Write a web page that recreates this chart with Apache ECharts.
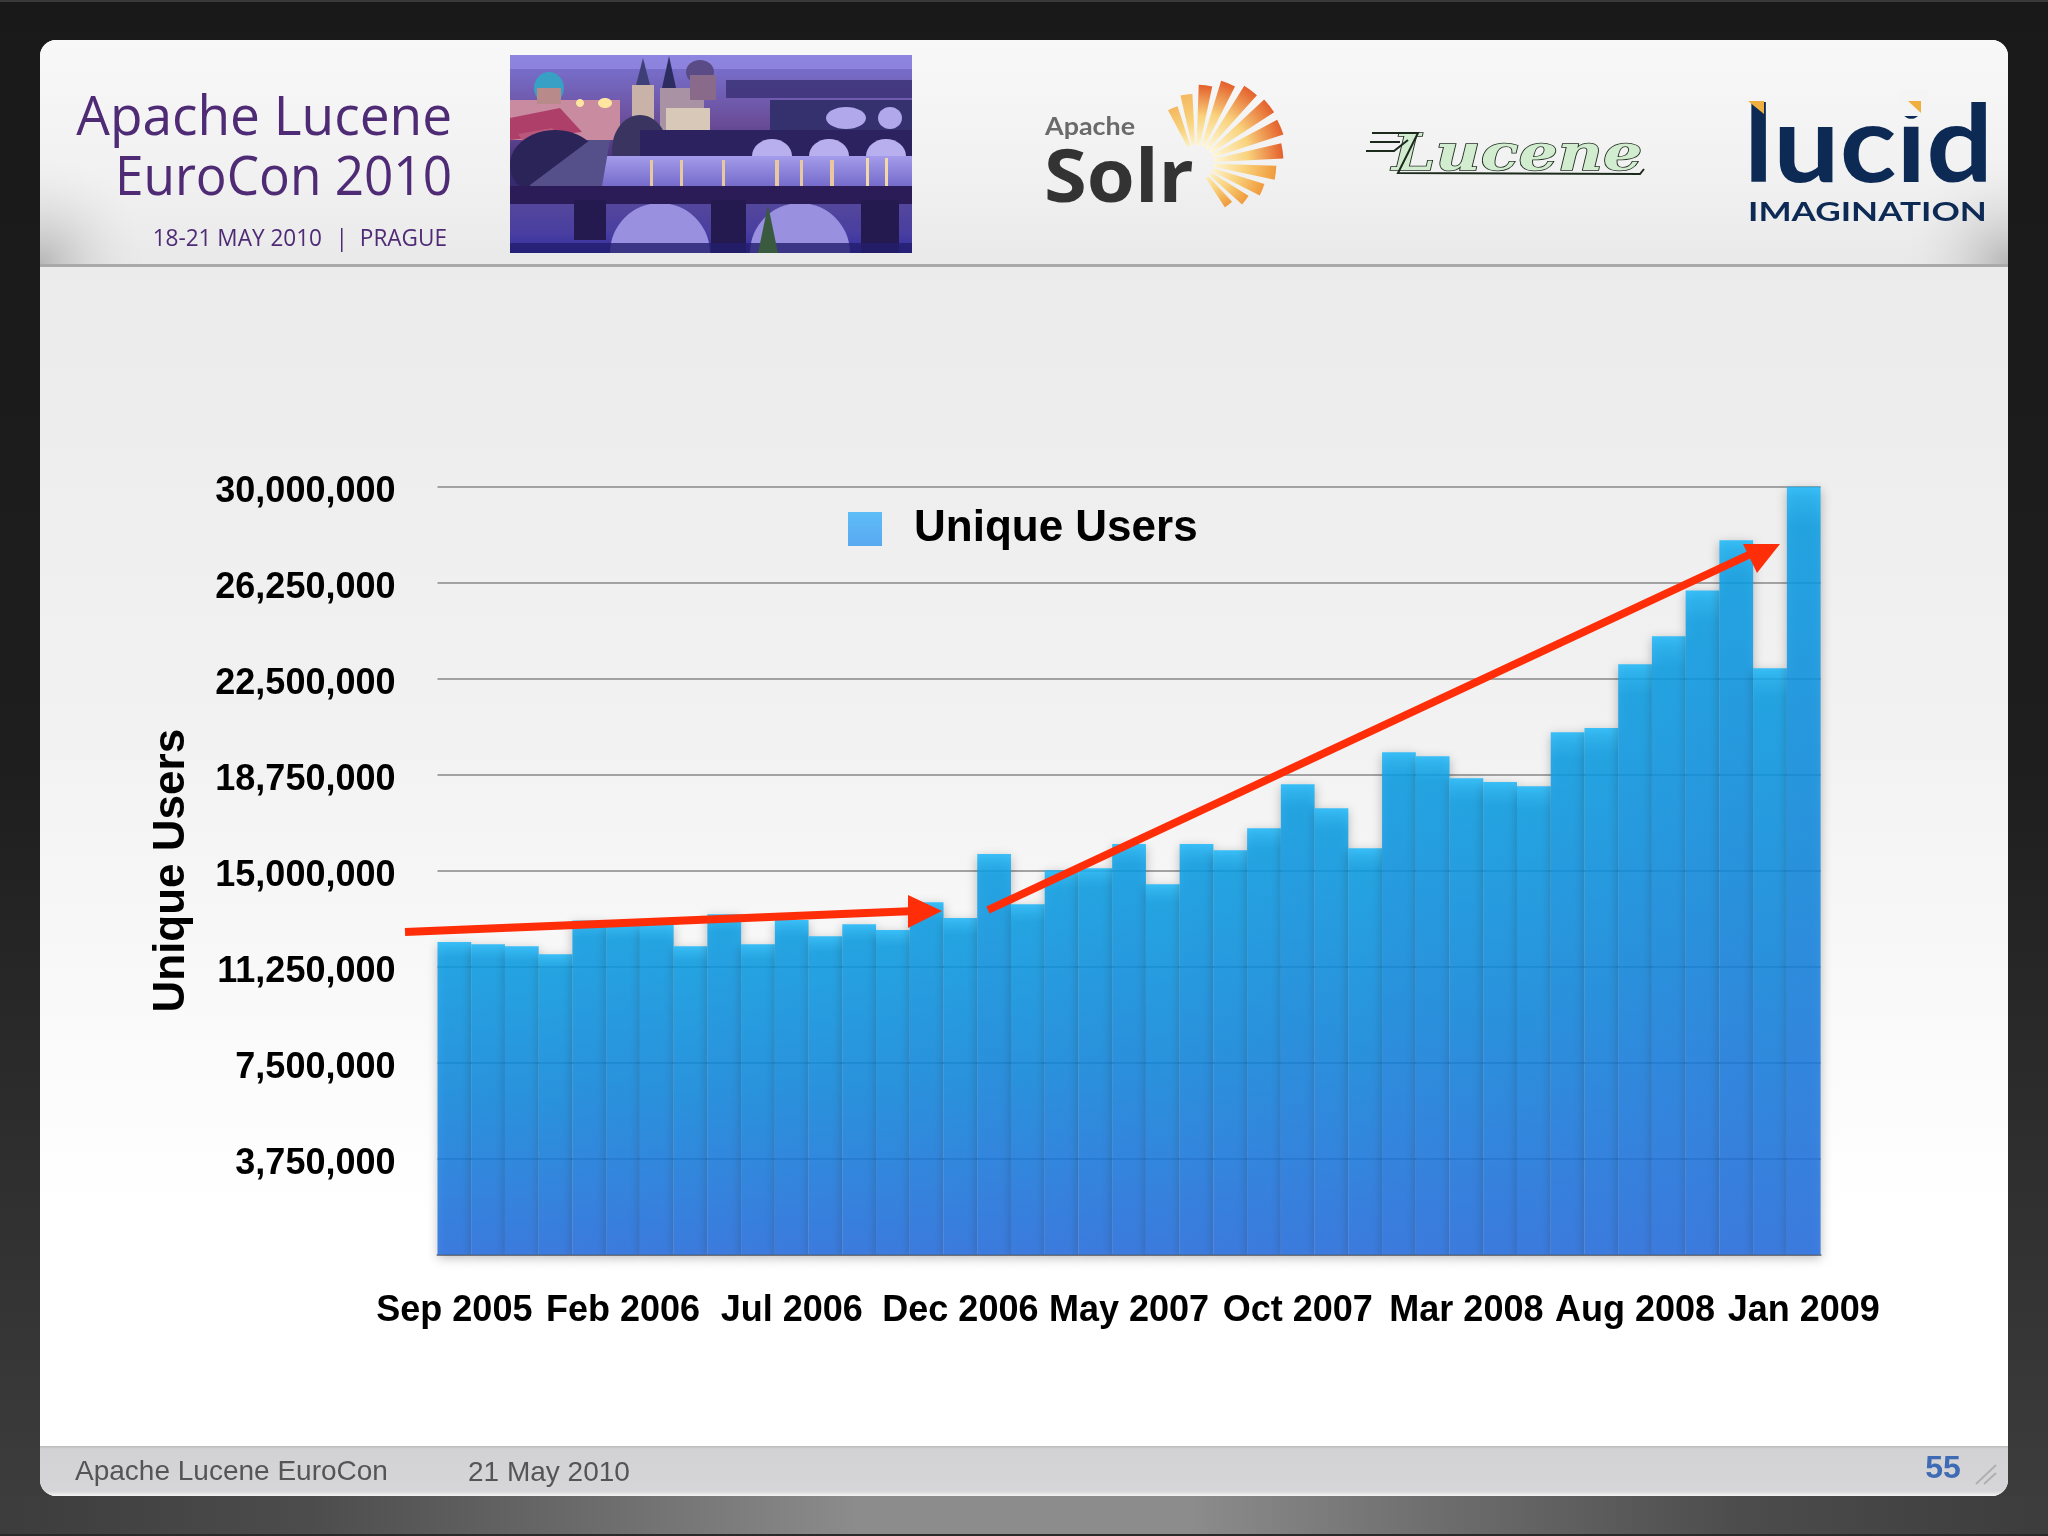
<!DOCTYPE html>
<html>
<head>
<meta charset="utf-8">
<title>Unique Users</title>
<style>
html, body { margin: 0; padding: 0; background: #1a1a1a; }
#main { width: 2048px; height: 1536px; }
</style>
<script src="https://cdn.jsdelivr.net/npm/echarts@6/dist/echarts.min.js"></script>
</head>
<body>
<div id="main"></div>
<script>
var months = [
    'Sep 2005', 'Oct 2005', 'Nov 2005', 'Dec 2005', 'Jan 2006', 'Feb 2006', 'Mar 2006', 'Apr 2006', 'May 2006',
    'Jun 2006', 'Jul 2006', 'Aug 2006', 'Sep 2006', 'Oct 2006', 'Nov 2006', 'Dec 2006', 'Jan 2007', 'Feb 2007',
    'Mar 2007', 'Apr 2007', 'May 2007', 'Jun 2007', 'Jul 2007', 'Aug 2007', 'Sep 2007', 'Oct 2007', 'Nov 2007',
    'Dec 2007', 'Jan 2008', 'Feb 2008', 'Mar 2008', 'Apr 2008', 'May 2008', 'Jun 2008', 'Jul 2008', 'Aug 2008',
    'Sep 2008', 'Oct 2008', 'Nov 2008', 'Dec 2008', 'Jan 2009'
];
var uniqueUsers = [
    12210000, 12130000, 12050000, 11740000, 13050000, 12960000, 12900000, 12050000, 13300000,
    12130000, 13070000, 12440000, 12910000, 12680000, 13770000, 13150000, 15650000, 13690000,
    15020000, 15100000, 16040000, 14470000, 16040000, 15800000, 16660000, 18380000, 17440000,
    15880000, 19630000, 19470000, 18610000, 18460000, 18300000, 20410000, 20570000, 23060000,
    24160000, 25950000, 27910000, 22910000, 30000000
];
var yTicks = [0, 3750000, 7500000, 11250000, 15000000, 18750000, 22500000, 26250000, 30000000];
var seriesName = 'Unique Users';

var dom = document.getElementById('main');
var myChart = echarts.init(dom);

function vgrad(stops) {
    return new echarts.graphic.LinearGradient(0, 0, 0, 1, stops.map(function (s) {
        return { offset: s[0], color: s[1] };
    }));
}
function hgrad(stops) {
    return new echarts.graphic.LinearGradient(0, 0, 1, 0, stops.map(function (s) {
        return { offset: s[0], color: s[1] };
    }));
}
function rect(x, y, w, h, fill, z, r) {
    return { type: 'rect', z: z === undefined ? -5 : z, silent: true, shape: { x: x, y: y, width: w, height: h, r: r || 0 }, style: { fill: fill } };
}
function ell(cx, cy, rx, ry, fill) {
    return { type: 'ellipse', z: -5, silent: true, shape: { cx: cx, cy: cy, rx: rx, ry: ry }, style: { fill: fill } };
}
function poly(points, fill, z) {
    return { type: 'polygon', z: z === undefined ? -5 : z, silent: true, shape: { points: points }, style: { fill: fill } };
}
function halfDisc(cx, cy, r, fill) {
    return { type: 'sector', z: -5, silent: true, shape: { cx: cx, cy: cy, r: r, r0: 0, startAngle: Math.PI, endAngle: 2 * Math.PI }, style: { fill: fill } };
}
function label(text, x, y, font, fill, align, scaleX, z) {
    return {
        type: 'text', z: z === undefined ? -4 : z, silent: true, x: x, y: y, scaleX: scaleX || 1,
        style: { text: text, font: font, fill: fill, align: align || 'left', verticalAlign: 'middle' }
    };
}
function arrow(points, head, z) {
    return [
        { type: 'polyline', z: z, silent: true, shape: { points: points }, style: { stroke: '#ff2d08', lineWidth: 8, fill: null } },
        { type: 'polygon', z: z, silent: true, shape: { points: head }, style: { fill: '#ff2d08' } }
    ];
}
function cornerShade(x, y, w, h, cx) {
    return rect(x, y, w, h, new echarts.graphic.RadialGradient(cx, 1, 1, [
        { offset: 0, color: 'rgba(165,165,165,0.75)' },
        { offset: 1, color: 'rgba(235,235,235,0)' }
    ]), -8);
}

// slide frame
var frame = [
    rect(0, 0, 2048, 1536, vgrad([[0, '#191919'], [0.5, '#1e1e1e'], [1, '#3e3e3e']]), -10),
    rect(0, 0, 2048, 2, '#3a3a3a', -10),
    rect(0, 1496, 2048, 38, hgrad([[0, '#3c3c3c'], [0.15, '#4c4c4c'], [0.3, '#6e6e6e'], [0.42, '#8c8c8c'], [0.58, '#8c8c8c'], [0.7, '#6e6e6e'], [0.85, '#4c4c4c'], [1, '#3c3c3c']]), -10),
    rect(0, 1534, 2048, 2, '#2a2a2a', -10),
    rect(40, 40, 1968, 1456, '#ffffff', -9, 16),
    rect(40, 40, 1968, 226, vgrad([[0, '#f8f8f8'], [0.6, '#f1f1f2'], [1, '#e9e9ea']]), -8, [16, 16, 0, 0]),
    cornerShade(40, 150, 110, 114, 0),
    cornerShade(1898, 150, 110, 114, 1),
    rect(40, 264, 1968, 3, '#a9a9aa', -8),
    rect(40, 267, 1968, 1180, vgrad([[0, '#ebebec'], [0.4, '#f2f2f3'], [0.8, '#ffffff'], [1, '#ffffff']]), -8),
    rect(40, 1446, 1968, 50, vgrad([[0, '#b9b9bc'], [0.06, '#d2d2d5'], [0.9, '#d6d6d9'], [1, '#f4f4f4']]), -8, [0, 0, 16, 16])
];

// header text
var header = [
    label('Apache Lucene', 452, 120, '400 54px "Open Sans"', '#4f2b75', 'right', 0.985),
    label('EuroCon 2010', 452, 180, '400 54px "Open Sans"', '#4f2b75', 'right', 0.95),
    label('18-21 MAY 2010', 322, 239, '400 24px "Open Sans"', '#4f2b75', 'right', 0.94),
    rect(341, 228, 1.5, 24, '#4f2b75', -4),
    label('PRAGUE', 447, 239, '400 24px "Open Sans"', '#4f2b75', 'right', 0.94)
];

// Prague photo, painted roughly
var photo = [
    rect(510, 55, 402, 198, vgrad([[0, '#7a76d6'], [0.35, '#6a4c98'], [0.6, '#3a2a70'], [1, '#2b2470']])),
    rect(510, 55, 402, 14, 'rgba(150,140,230,0.7)'),
    rect(510, 100, 110, 40, '#c98ba0'),
    poly([[510, 118], [560, 108], [582, 132], [510, 140]], '#ad3f68'),
    poly([[518, 134], [552, 128], [572, 148], [530, 152]], '#b9587c'),
    ell(549, 88, 15, 16, '#37a0c4'),
    rect(537, 88, 24, 16, '#b88a8a'),
    rect(632, 85, 22, 35, '#c9b3a8'),
    poly([[636, 85], [643, 58], [650, 85]], '#3f3f78'),
    poly([[662, 88], [669, 56], [676, 88]], '#2c2c60'),
    rect(660, 88, 44, 42, '#a892a4'),
    rect(666, 108, 44, 24, '#d8c8b8'),
    ell(700, 72, 14, 12, '#5a4a86'),
    rect(690, 75, 26, 25, '#8a6a8a'),
    ell(605, 103, 7, 5, '#ffe6a0'),
    ell(580, 103, 4, 4, '#ffe6a0'),
    ell(555, 165, 45, 35, '#2a2458'),
    ell(640, 150, 28, 35, '#3a3560'),
    rect(726, 80, 186, 18, 'rgba(60,50,120,0.85)'),
    rect(770, 100, 142, 30, '#35306e'),
    ell(846, 118, 20, 11, '#b0a8ea'),
    ell(890, 118, 12, 11, '#b0a8ea'),
    rect(640, 130, 272, 28, '#2c2260'),
    ell(772, 156, 20, 17, '#b8b0ee'),
    ell(829, 156, 20, 17, '#b8b0ee'),
    ell(886, 156, 20, 17, '#b8b0ee'),
    rect(600, 156, 312, 36, vgrad([[0, '#a49cea'], [1, '#6c62c6']])),
    rect(650, 160, 3, 28, '#e8c8a0'), rect(680, 160, 3, 28, '#e8c8a0'), rect(722, 160, 3, 28, '#e8c8a0'),
    rect(775, 160, 4, 28, '#e8c8a0'), rect(800, 160, 3, 28, '#e8c8a0'), rect(830, 160, 4, 28, '#e8c8a0'),
    rect(866, 158, 3, 28, '#f0d8a8'), rect(885, 158, 3, 28, '#f0d8a8'),
    poly([[530, 185], [590, 140], [610, 140], [602, 186], [530, 186]], '#55508a'),
    rect(510, 186, 402, 14, '#2b1c58'),
    rect(510, 200, 402, 53, vgrad([[0, '#54489c'], [0.6, '#4a3ea0'], [1, '#3430a0']])),
    halfDisc(660, 253, 50, '#9a90e0'),
    halfDisc(800, 253, 50, '#9a90e0'),
    rect(510, 196, 402, 8, '#2b1c58'),
    rect(574, 200, 32, 40, '#251a50'),
    rect(711, 200, 35, 53, '#251a50'),
    rect(861, 200, 38, 53, '#251a50'),
    rect(510, 243, 402, 10, 'rgba(35,30,110,0.8)'),
    poly([[758, 253], [768, 205], [778, 253]], '#3a5a40')
];

// Solr logo: rays fan out from one point to the edge of a circle
var solr = [
    label('Apache', 1045, 127, '700 24px Lato', '#6a6a6a', 'left', 1.12),
    label('Solr', 1044, 181, '700 74px "Open Sans"', '#333333', 'left', 1.05, -3)
];
var sunAngles = [-118, -103, -88, -73, -58, -43, -28, -13, 2, 17, 32, 47];
var sunOrigin = [1196, 163];
var sunCircle = [1222, 144, 61];
sunAngles.forEach(function (a, i) {
    var mid = (a + 5) * Math.PI / 180;
    var ux = Math.cos(mid), uy = Math.sin(mid);
    var dx = sunOrigin[0] - sunCircle[0], dy = sunOrigin[1] - sunCircle[1];
    var du = dx * ux + dy * uy;
    var reach = -du + Math.sqrt(du * du - dx * dx - dy * dy + sunCircle[2] * sunCircle[2]);
    var edge = i < 2 ? '#f4b860' : (i < 8 ? '#e4602c' : '#f09a3c');
    solr.push({
        type: 'sector', z: -4, silent: true,
        shape: { cx: sunOrigin[0], cy: sunOrigin[1], r: reach, r0: 18, startAngle: a * Math.PI / 180, endAngle: (a + 10) * Math.PI / 180 },
        style: {
            fill: new echarts.graphic.RadialGradient(sunOrigin[0], sunOrigin[1], reach, [
                { offset: 0.2, color: '#fff8d8' },
                { offset: 0.6, color: '#f9d27c' },
                { offset: 1, color: edge }
            ], true)
        }
    });
});

// Lucene logo
var lucene = [
    label('Lucene', 1392, 157, 'italic 700 50px "DejaVu Serif"', '#d2ecd0', 'left', 1.24),
    { type: 'polyline', z: -4, silent: true, shape: { points: [[1372, 133], [1418, 133], [1398, 173], [1640, 174], [1644, 169]] }, style: { stroke: '#1c2a1c', lineWidth: 2, fill: null } },
    { type: 'polyline', z: -4, silent: true, shape: { points: [[1366, 151], [1394, 151], [1408, 140]] }, style: { stroke: '#1c2a1c', lineWidth: 2, fill: null } },
    { type: 'polyline', z: -4, silent: true, shape: { points: [[1370, 142], [1400, 142]] }, style: { stroke: '#1c2a1c', lineWidth: 2, fill: null } }
];
lucene[0].style.stroke = '#1c2a1c';
lucene[0].style.lineWidth = 1.5;

// Lucid logo, the i dot is replaced by a yellow wedge
var lucid = [
    label('lucid', 1744, 147, '700 107px Lato', '#0d2a55', 'left', 1.1),
    rect(1899, 90, 28, 26, '#f4f4f5', -3),
    rect(1908, 101, 13, 14, '#f4f4f5', -3),
    poly([[1748, 101], [1764, 101], [1764, 114]], '#f0b040', -2),
    poly([[1908, 101], [1921, 101], [1921, 113]], '#f0b040', -2),
    label('IMAGINATION', 1748, 212, '700 27px Lato', '#0d2a55', 'left', 1.3)
];

// footer
var footer = [
    label('Apache Lucene EuroCon', 75, 1472, '400 28px "Liberation Sans"', '#555555', 'left'),
    label('21 May 2010', 468, 1473, '400 28px "Liberation Sans"', '#555555', 'left'),
    label('55', 1943, 1469, '700 32px "Liberation Sans"', '#3f6bb5', 'center'),
    { type: 'polyline', z: -4, silent: true, shape: { points: [[1976, 1484], [1996, 1465]] }, style: { stroke: '#b0b0b3', lineWidth: 2, fill: null } },
    { type: 'polyline', z: -4, silent: true, shape: { points: [[1984, 1484], [1996, 1473]] }, style: { stroke: '#b0b0b3', lineWidth: 2, fill: null } }
];

// red trend arrows
var arrows = arrow([[405, 932], [915, 911]], [[908, 895], [942, 911], [908, 928]], 100)
    .concat(arrow([[988, 910], [1755, 552]], [[1743, 544], [1780, 544], [1757, 573]], 100));

var option = {
    animation: false,
    grid: { left: 437.5, right: 227.4, top: 486.7, bottom: 281.3 },
    legend: {
        left: 843, top: 502, icon: 'rect', itemWidth: 34, itemHeight: 34, itemGap: 32,
        itemStyle: { color: vgrad([[0, '#44b4f8'], [1, '#3f9cf2']]) },
        textStyle: { fontFamily: 'Liberation Sans', fontWeight: 'bold', fontSize: 44, color: '#000', padding: [0, 0, 0, 27] },
        data: [seriesName]
    },
    xAxis: {
        type: 'category',
        data: months,
        axisTick: { show: false },
        axisLine: { lineStyle: { color: '#8a8a8a', width: 2 } },
        axisLabel: {
            interval: 4,
            margin: 38,
            fontFamily: 'Liberation Sans',
            fontWeight: 'bold',
            fontSize: 36,
            color: '#000'
        }
    },
    yAxis: {
        type: 'value',
        min: yTicks[0],
        max: yTicks[yTicks.length - 1],
        interval: yTicks[1],
        name: seriesName,
        nameLocation: 'middle',
        nameRotate: 90,
        nameGap: 244,
        nameTextStyle: { fontFamily: 'Liberation Sans', fontWeight: 'bold', fontSize: 44, color: '#000' },
        axisLine: { show: false },
        axisTick: { show: false },
        splitLine: { lineStyle: { color: '#a2a2a4', width: 2 } },
        axisLabel: {
            margin: 42,
            formatter: function (v) { return v === 0 ? '' : '{t|' + v.toLocaleString('en-US') + '}'; },
            rich: {
                t: {
                    padding: [10, 0, 0, 0],
                    fontFamily: 'Liberation Sans',
                    fontWeight: 'bold',
                    fontSize: 36,
                    color: '#000'
                }
            }
        }
    },
    series: [{
        name: seriesName,
        type: 'bar',
        data: uniqueUsers,
        barCategoryGap: '0%',
        itemStyle: {
            opacity: 0.85,
            color: vgrad([[0, 'rgb(28,184,250)'], [0.05, 'rgb(10,160,232)'], [0.5, 'rgb(16,138,226)'], [1, 'rgb(36,110,226)']]),
            shadowColor: 'rgba(0,0,0,0.3)',
            shadowBlur: 10,
            shadowOffsetY: 3
        }
    }],
    graphic: { elements: frame.concat(header, photo, solr, lucene, lucid, footer, arrows) }
};
myChart.setOption(option, true);
</script>
</body>
</html>
